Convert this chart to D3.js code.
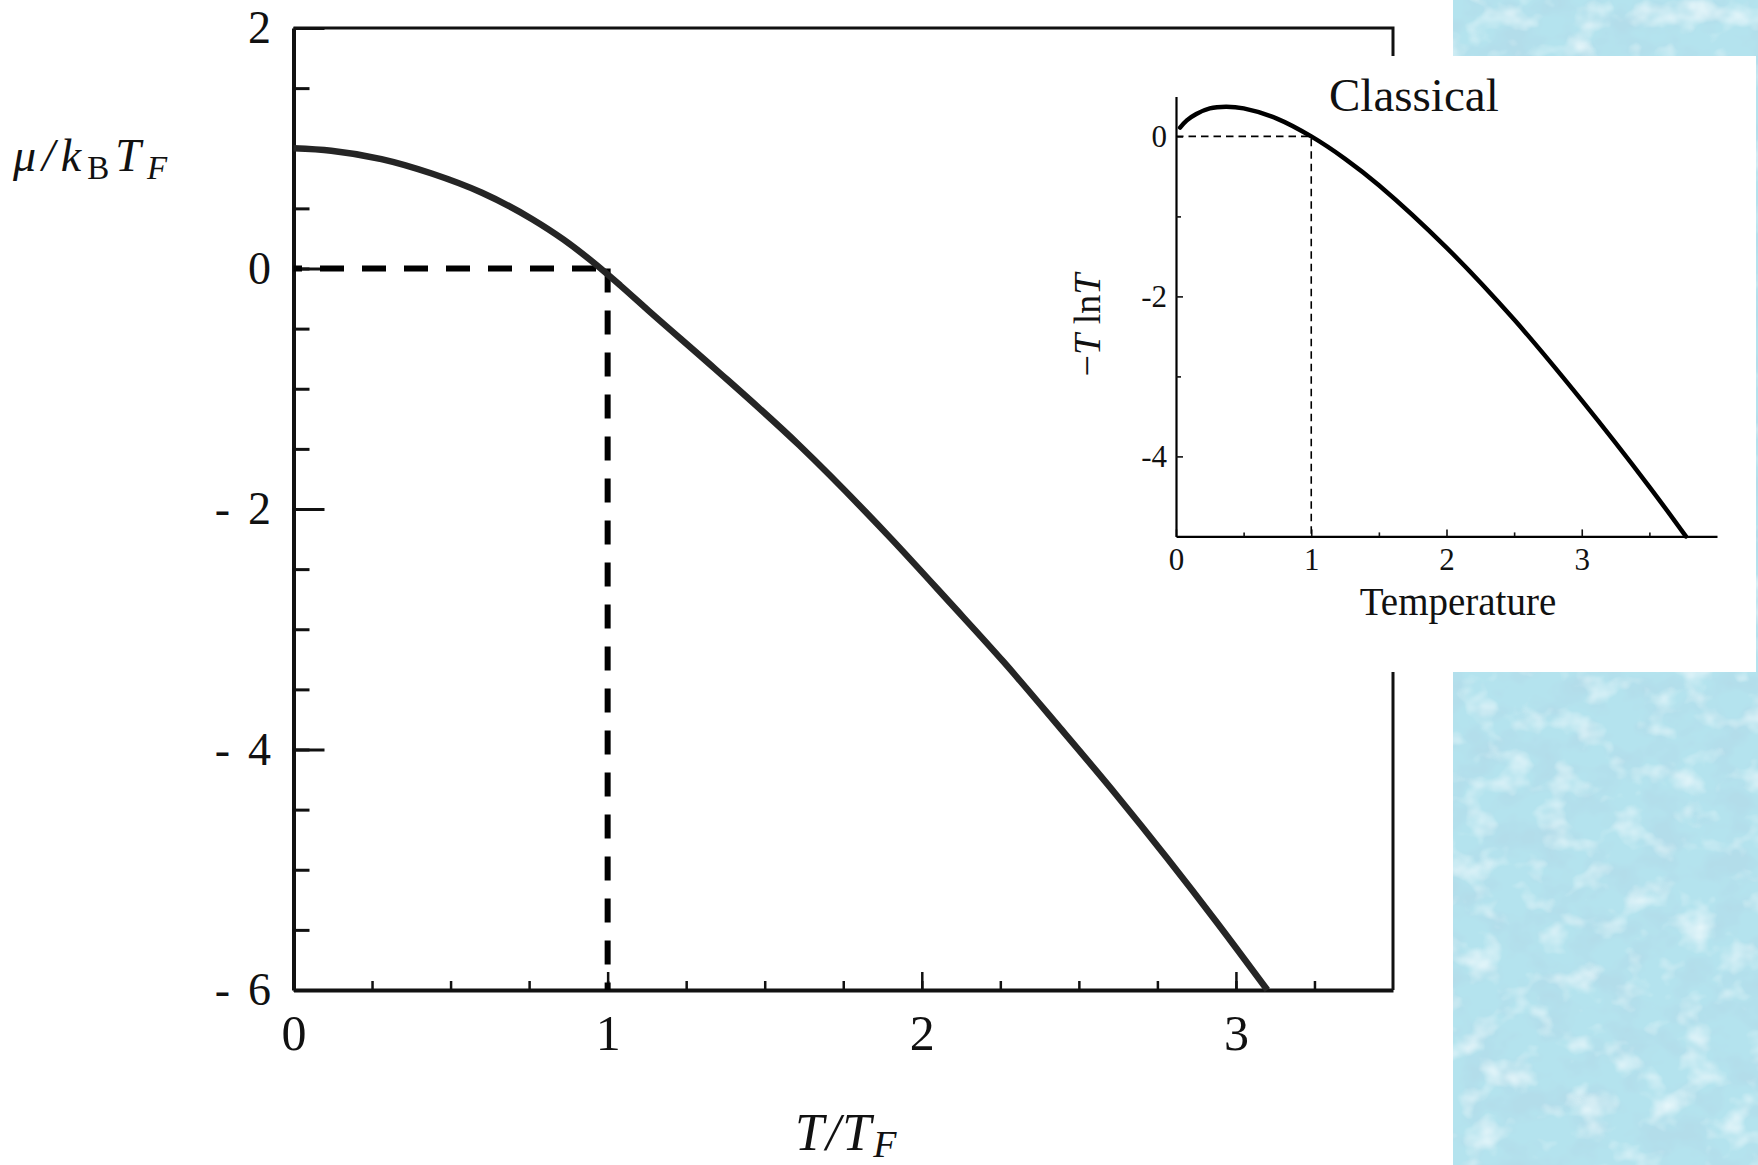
<!DOCTYPE html>
<html>
<head>
<meta charset="utf-8">
<script src="https://cdn.jsdelivr.net/npm/d3@7"></script>
<style>
  html, body { margin: 0; padding: 0; background: #fff; }
  svg { display: block; }
  text { font-family: "Liberation Serif", "Times New Roman", serif; fill: #111; }
</style>
</head>
<body>
<svg id="chart" width="1758" height="1165"></svg>
<script>
// main plot: chemical potential of the ideal Fermi gas
const fermiT  = [0, 0.12, 0.28, 0.44, 0.60, 0.76, 0.86, 0.95, 1.04, 1.13, 1.34, 1.61, 1.90, 2.09, 2.26, 2.44, 2.62, 2.78, 2.94, 3.10];
const fermiMu = [1.00, 0.98, 0.91, 0.79, 0.63, 0.41, 0.24, 0.06, -0.14, -0.35, -0.83, -1.47, -2.24, -2.78, -3.27, -3.82, -4.38, -4.90, -5.44, -6.00];

const mainXTicks  = [0, 1, 2, 3];
const mainXLabels = ["0", "1", "2", "3"];
const mainYTicks  = [2, 0, -2, -4, -6];
const mainYLabels = ["2", "0", "2", "4", "6"];

// inset: classical -T ln T
const classicalT = [0.03, 0.08, 0.15, 0.25, 0.37, 0.50, 0.75, 1.00, 1.25, 1.50, 2.00, 2.50, 3.00, 3.50, 3.77];
const classicalY = [0.11, 0.20, 0.28, 0.35, 0.37, 0.35, 0.22, 0.00, -0.28, -0.61, -1.39, -2.29, -3.30, -4.38, -5.00];

const insetXTicks  = [0, 1, 2, 3];
const insetXLabels = ["0", "1", "2", "3"];
const insetYTicks  = [0, -2, -4];
const insetYLabels = ["0", "-2", "-4"];

const svg = d3.select("#chart");

// water-drop texture for the slide background
const defs = svg.append("defs");
const f = defs.append("filter").attr("id", "drops")
  .attr("x", 0).attr("y", 0).attr("width", 1).attr("height", 1);
f.append("feFlood").attr("flood-color", "#b4e3ee").attr("result", "base");
f.append("feTurbulence").attr("type", "fractalNoise")
  .attr("baseFrequency", "0.028 0.034").attr("numOctaves", 3).attr("seed", 11).attr("result", "noise");
f.append("feColorMatrix").attr("in", "noise").attr("type", "matrix")
  .attr("values", "0 0 0 0 0.45  0 0 0 0 0.72  0 0 0 0 0.82  2.6 0 0 0 -1.05").attr("result", "dark");
f.append("feColorMatrix").attr("in", "noise").attr("type", "matrix")
  .attr("values", "0 0 0 0 0.82  0 0 0 0 0.94  0 0 0 0 0.97  0 -2.2 0 0 1.05").attr("result", "light");
const m = f.append("feMerge");
m.append("feMergeNode").attr("in", "base");
m.append("feMergeNode").attr("in", "dark");
m.append("feMergeNode").attr("in", "light");

svg.append("rect").attr("x", 1453).attr("y", 0).attr("width", 305).attr("height", 1165)
  .attr("fill", "#b4e3ee").attr("filter", "url(#drops)");

// ---- main plot ----
const x = d3.scaleLinear().domain([0, 3.5]).range([293.5, 1393]);
const y = d3.scaleLinear().domain([-6, 2]).range([990, 28]);

function styleAxis(g, size, width) {
  g.attr("font-family", null).attr("font-size", size);
  g.selectAll(".tick line").attr("stroke", "#111").attr("stroke-width", width);
  g.selectAll(".tick text").attr("fill", "#111");
}

svg.append("g").attr("transform", `translate(0,${y(-6)})`)
  .call(d3.axisBottom(x).tickValues(d3.range(0.25, 3.5, 0.25)).tickSize(-9).tickSizeOuter(0).tickFormat(""))
  .call(g => g.select(".domain").attr("stroke", "#111").attr("stroke-width", 4))
  .call(g => styleAxis(g, 50, 2.5));

svg.append("g").attr("transform", `translate(0,${y(-6)})`)
  .call(d3.axisBottom(x).tickValues(mainXTicks).tickSize(-18).tickPadding(24.5)
    .tickFormat((d, i) => mainXLabels[i]))
  .call(g => g.select(".domain").remove())
  .call(g => styleAxis(g, 50, 2.5));

svg.append("g").attr("transform", `translate(${x(0)},0)`)
  .call(d3.axisLeft(y).tickValues(d3.range(-5.5, 2, 0.5)).tickSize(-16).tickSizeOuter(0).tickFormat(""))
  .call(g => g.select(".domain").attr("stroke", "#111").attr("stroke-width", 4))
  .call(g => styleAxis(g, 46, 3));

svg.append("g").attr("transform", `translate(${x(0)},0)`)
  .call(d3.axisLeft(y).tickValues(mainYTicks).tickSize(-31).tickPadding(22.5)
    .tickFormat((d, i) => mainYLabels[i]))
  .call(g => g.select(".domain").remove())
  .call(g => styleAxis(g, 46, 3))
  .call(g => g.selectAll(".tick").filter(d => d < 0)
    .append("text").attr("x", -71).attr("dy", "0.32em")
    .attr("text-anchor", "middle").attr("fill", "#111").text("-"));

// frame top and right
svg.append("path")
  .attr("d", `M${x(0)},${y(2)}H${x(3.5)}V${y(-6)}`)
  .attr("fill", "none").attr("stroke", "#111").attr("stroke-width", 3);

const line = d3.line().x(d => x(d[0])).y(d => y(d[1]));

svg.append("path").datum([[0, 0], [1, 0]])
  .attr("d", line).attr("fill", "none").attr("stroke", "#000")
  .attr("stroke-width", 6).attr("stroke-dasharray", "24 18").attr("stroke-dashoffset", 15.5);
svg.append("path").datum([[1, 0], [1, -6]])
  .attr("d", line).attr("fill", "none").attr("stroke", "#000")
  .attr("stroke-width", 6).attr("stroke-dasharray", "24 18");

svg.append("path").datum(d3.zip(fermiT, fermiMu))
  .attr("d", line.curve(d3.curveMonotoneX))
  .attr("fill", "none").attr("stroke", "#252525").attr("stroke-width", 6.5);

// axis titles
const yt = svg.append("text").attr("x", 13).attr("y", 171)
  .attr("font-size", 46).attr("font-style", "italic").attr("letter-spacing", 6);
yt.append("tspan").text("μ/k");
yt.append("tspan").attr("font-style", "normal").attr("font-size", 33).attr("dy", 8).text("B");
yt.append("tspan").attr("dy", -8).text("T");
yt.append("tspan").attr("font-size", 33).attr("dy", 8).text("F");

const xt = svg.append("text").attr("x", 795).attr("y", 1150)
  .attr("font-size", 52).attr("font-style", "italic").attr("letter-spacing", 2);
xt.append("tspan").text("T/T");
xt.append("tspan").attr("font-size", 38).attr("dy", 7).text("F");

// ---- inset ----
svg.append("rect").attr("x", 1062).attr("y", 56).attr("width", 694).attr("height", 616)
  .attr("fill", "#fff");

const xi = d3.scaleLinear().domain([0, 4]).range([1176, 1717]);
const yi = d3.scaleLinear().domain([-5, 0.5]).range([536.4, 96.4]);

svg.append("g").attr("transform", `translate(0,${yi(-5)})`)
  .call(d3.axisBottom(xi).tickValues([0.5, 1.5, 2.5, 3.5]).tickSize(-4).tickSizeOuter(0).tickFormat(""))
  .call(g => g.select(".domain").attr("stroke", "#000").attr("stroke-width", 2.2))
  .call(g => styleAxis(g, 31, 1.6));

svg.append("g").attr("transform", `translate(0,${yi(-5)})`)
  .call(d3.axisBottom(xi).tickValues(insetXTicks).tickSize(-7).tickPadding(11.6)
    .tickFormat((d, i) => insetXLabels[i]))
  .call(g => g.select(".domain").remove())
  .call(g => styleAxis(g, 31, 1.6));

svg.append("g").attr("transform", `translate(${xi(0)},0)`)
  .call(d3.axisLeft(yi).tickValues([-1, -3]).tickSize(-5).tickSizeOuter(0).tickFormat(""))
  .call(g => g.select(".domain").attr("stroke", "#000").attr("stroke-width", 2.2))
  .call(g => styleAxis(g, 31, 1.6));

svg.append("g").attr("transform", `translate(${xi(0)},0)`)
  .call(d3.axisLeft(yi).tickValues(insetYTicks).tickSize(-7).tickPadding(9)
    .tickFormat((d, i) => insetYLabels[i]))
  .call(g => g.select(".domain").remove())
  .call(g => styleAxis(g, 31, 1.6));

const lineI = d3.line().x(d => xi(d[0])).y(d => yi(d[1]));

svg.append("path").datum([[0, 0], [1, 0], [1, -5]])
  .attr("d", lineI).attr("fill", "none").attr("stroke", "#000")
  .attr("stroke-width", 1.6).attr("stroke-dasharray", "7.5 5");

svg.append("path").datum(d3.zip(classicalT, classicalY))
  .attr("d", lineI.curve(d3.curveCatmullRom.alpha(0.5)))
  .attr("fill", "none").attr("stroke", "#000").attr("stroke-width", 4.5)
  .attr("stroke-linecap", "round");

svg.append("text").attr("x", 1329).attr("y", 111).attr("font-size", 47).text("Classical");

svg.append("text").attr("x", 1458).attr("y", 615).attr("font-size", 39)
  .attr("text-anchor", "middle").text("Temperature");

const it = svg.append("text").attr("transform", "translate(1100,325) rotate(-90)")
  .attr("font-size", 38).attr("text-anchor", "middle");
it.append("tspan").text("\u2212");
it.append("tspan").attr("font-style", "italic").text("T");
it.append("tspan").text(" ln");
it.append("tspan").attr("font-style", "italic").text("T");
</script>
</body>
</html>
